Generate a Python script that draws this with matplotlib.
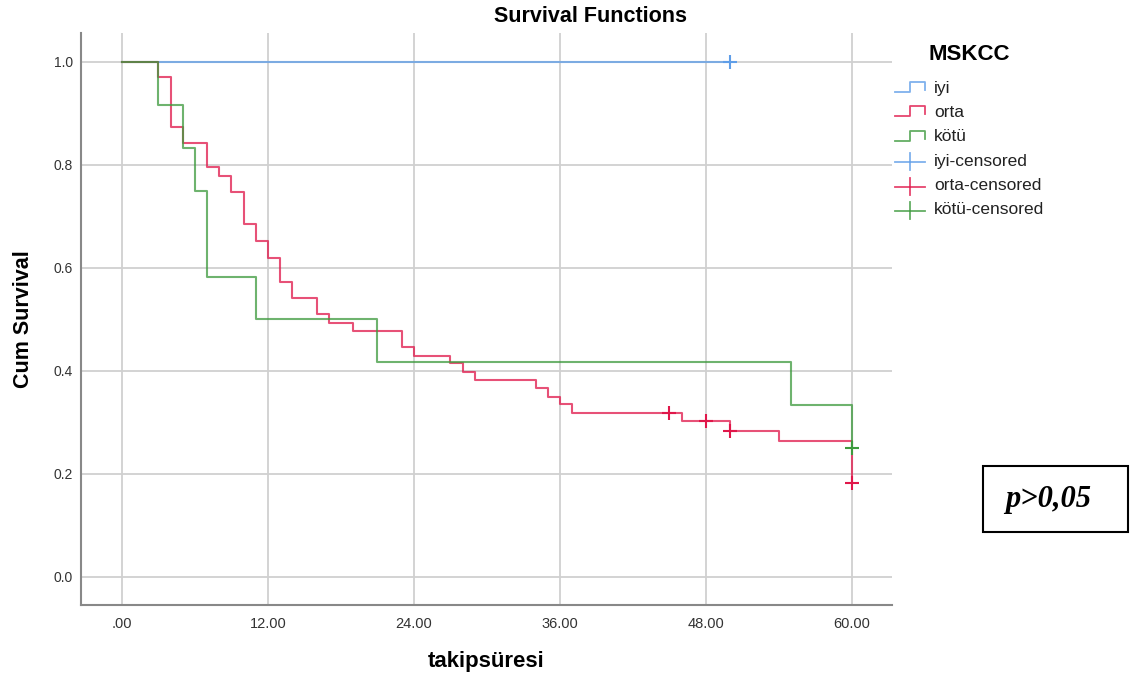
import matplotlib
matplotlib.use("Agg")
import matplotlib.pyplot as plt
from matplotlib.lines import Line2D
from matplotlib.patches import Rectangle

# survival steps (time in months, cumulative survival)
iyi_t = [0, 50]
iyi_s = [1.0, 1.0]
iyi_cens_t = [50]
iyi_cens_s = [1.0]

orta_t = [0, 3, 4, 5, 7, 8, 9, 10, 11, 12, 13, 14, 16, 17, 19, 23, 24, 27, 28, 29,
          34, 35, 36, 37, 46, 50, 54, 60]
orta_s = [1.0, 0.970, 0.873, 0.843, 0.796, 0.779, 0.747, 0.685, 0.652, 0.620, 0.572,
          0.542, 0.510, 0.494, 0.478, 0.446, 0.429, 0.415, 0.398, 0.382, 0.366, 0.350,
          0.335, 0.319, 0.303, 0.284, 0.264, 0.182]
orta_cens_t = [45, 48, 50, 60]
orta_cens_s = [0.319, 0.303, 0.284, 0.182]

kotu_t = [0, 3, 5, 6, 7, 11, 21, 55, 60]
kotu_s = [1.0, 0.917, 0.833, 0.750, 0.583, 0.500, 0.417, 0.333, 0.250]
kotu_cens_t = [60]
kotu_cens_s = [0.250]

group_names = ["iyi", "orta", "kötü"]
group_colors = ["#5f9ee8", "#e0174a", "#3d9a3d"]

xticks = [0, 12, 24, 36, 48, 60]
xtick_labels = [".00", "12.00", "24.00", "36.00", "48.00", "60.00"]
yticks = [0.0, 0.2, 0.4, 0.6, 0.8, 1.0]
ytick_labels = ["0.0", "0.2", "0.4", "0.6", "0.8", "1.0"]

W, H = 1131, 682
fig = plt.figure(figsize=(W / 100, H / 100), dpi=100)
ax = fig.add_axes([81 / W, 1 - 605 / H, (892 - 81) / W, (605 - 33) / H])


def px(x, y):
    return x / W, 1 - y / H


steps = [(iyi_t, iyi_s), (orta_t, orta_s), (kotu_t, kotu_s)]
cens = [(iyi_cens_t, iyi_cens_s), (orta_cens_t, orta_cens_s), (kotu_cens_t, kotu_cens_s)]
for (t, s), (ct, cs), col in zip(steps, cens, group_colors):
    ax.step(t, s, where="post", color=col, lw=1.5, alpha=0.75, zorder=3)
    ax.plot(ct, cs, ls="none", marker="+", ms=10, mew=1.5, color=col, zorder=4)

ax.set_xlim(-3.37, 63.29)
ax.set_ylim(-0.0544, 1.0563)
ax.set_xticks(xticks)
ax.set_xticklabels(xtick_labels, family="Liberation Sans", fontsize=10.5, color="#333333")
ax.set_yticks(yticks)
ax.set_yticklabels(ytick_labels, family="Liberation Sans", fontsize=10, color="#333333")
ax.tick_params(axis="both", length=0)
ax.tick_params(axis="x", pad=9)
ax.tick_params(axis="y", pad=6)
ax.grid(True, color="#d0d0d0", lw=1.3)
ax.set_axisbelow(True)
for side in ["top", "right"]:
    ax.spines[side].set_visible(False)
for side in ["left", "bottom"]:
    ax.spines[side].set_color("#888888")
    ax.spines[side].set_linewidth(1.5)

ax.set_xlabel("takipsüresi", family="Liberation Sans", fontweight="bold",
              fontsize=16, labelpad=14)
ax.set_ylabel("Cum Survival", family="Liberation Sans", fontweight="bold",
              fontsize=15.5, labelpad=14)
fig.text(*px(591, 16), "Survival Functions", family="Liberation Sans",
         fontweight="bold", fontsize=15.5, ha="center", va="center")

# legend drawn by hand
fig.text(*px(929, 54), "MSKCC", family="Liberation Sans", fontweight="bold",
         fontsize=16, ha="left", va="center")
labels = group_names + [g + "-censored" for g in group_names]
for i, lab in enumerate(labels):
    yc = 88 + i * 24.4
    col = group_colors[i % 3]
    if i < 3:
        xs = [895, 910, 910, 925, 925]
        ys = [yc + 4, yc + 4, yc - 6, yc - 6, yc + 2]
    else:
        xs = [895, 925]
        ys = [yc + 1, yc + 1]
        fig.add_artist(Line2D([910 / W, 910 / W], [1 - (yc - 8) / H, 1 - (yc + 9) / H],
                              transform=fig.transFigure, color=col, lw=1.3, alpha=0.8))
    fig.add_artist(Line2D([x / W for x in xs], [1 - y / H for y in ys],
                          transform=fig.transFigure, color=col, lw=1.3, alpha=0.8))
    fig.text(*px(934, yc), lab, family="Liberation Sans", fontsize=12.5,
             ha="left", va="center", color="#222222")

# p value box
fig.add_artist(Rectangle(px(983, 532), (1128 - 983) / W, (532 - 466) / H,
                         transform=fig.transFigure, fill=False, ec="black", lw=1.5))
fig.text(*px(1048, 499), "p>0,05", family="Liberation Serif", fontweight="bold",
         fontstyle="italic", fontsize=22, ha="center", va="center")

fig.savefig("out.png", dpi=100)
